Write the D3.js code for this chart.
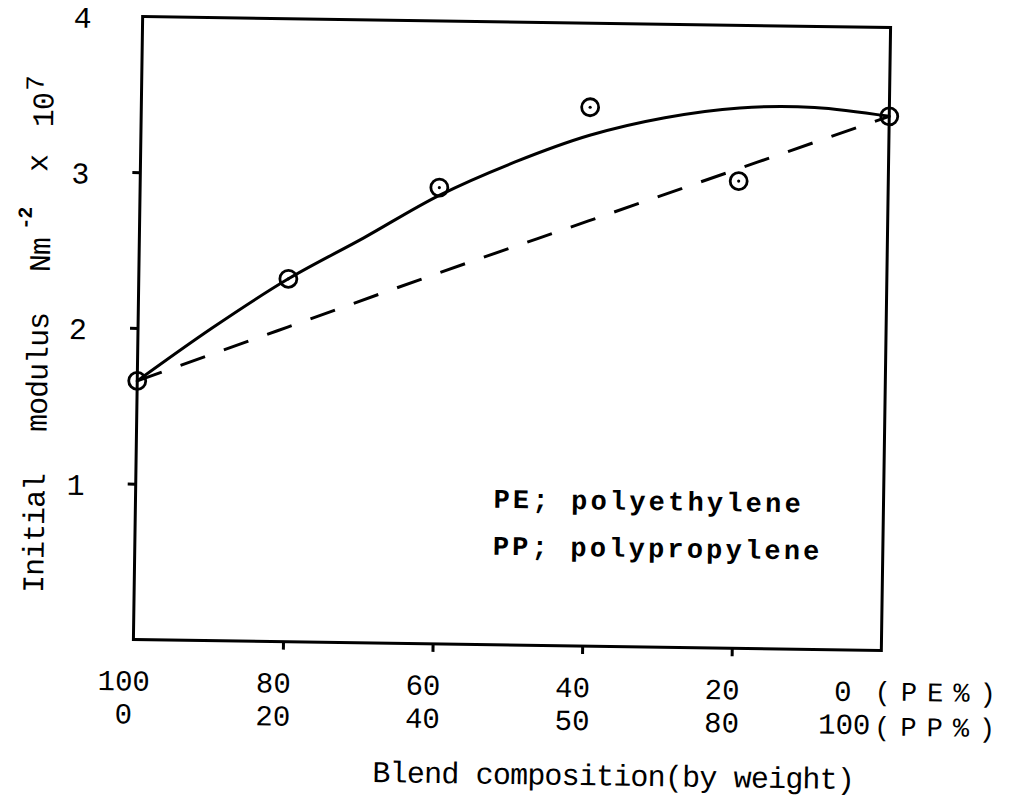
<!DOCTYPE html>
<html>
<head>
<meta charset="utf-8">
<script src="https://cdn.jsdelivr.net/npm/d3@7"></script>
<style>
  html, body { margin: 0; padding: 0; background: #fff; }
  svg { display: block; }
  text { font-family: "Liberation Mono", "DejaVu Sans Mono", monospace; fill: #000; }
</style>
</head>
<body>
<svg id="chart" width="1020" height="801"></svg>
<script>
// Blend composition, PE weight percent (PP = 100 - PE)
const pePercent = [100, 80, 60, 40, 20, 0];
const peLabels = ["100", "80", "60", "40", "20", "0"];
const ppLabels = ["0", "20", "40", "50", "80", "100"];

// Measured initial modulus (x 10^7 N m^-2)
const measured = [1.66, 2.33, 2.93, 3.46, 3.00, 3.43];

// Smooth trend drawn through the measurements
const trendPE = [100, 90, 80, 70, 60, 50, 40, 30, 20, 10, 0];
const trendModulus = [1.66, 2.01, 2.33, 2.60, 2.88, 3.10, 3.28, 3.40, 3.47, 3.48, 3.43];

// Additivity line between the two pure polymers
const additivePE = [100, 80, 60, 40, 20, 0];
const additiveModulus = [1.66, 2.02, 2.38, 2.73, 3.08, 3.43];

const yTicks = [1, 2, 3, 4];
const xInnerTicks = [80, 60, 40, 20];

const svg = d3.select("#chart");
svg.append("rect").attr("width", 1020).attr("height", 801).attr("fill", "#fff");

const L = 138, R = 886, T = 22, B = 645;
const x = d3.scaleLinear().domain([100, 0]).range([L, R]);
const y = d3.scaleLinear().domain([0, 4]).range([B, T]);

// the sheet sits slightly turned on the page
const g = svg.append("g").attr("transform", "rotate(0.85, 512, 333)");

// frame
g.append("rect")
  .attr("x", L).attr("y", T).attr("width", R - L).attr("height", B - T)
  .attr("fill", "none").attr("stroke", "#000").attr("stroke-width", 3);

// tick marks
const yAxis = g.append("g").attr("transform", `translate(${L},0)`)
  .call(d3.axisLeft(y).tickValues([1, 2, 3]).tickSize(8).tickFormat(""));
const xAxis = g.append("g").attr("transform", `translate(0,${B})`)
  .call(d3.axisBottom(x).tickValues(xInnerTicks).tickSize(8).tickFormat(""));
[yAxis, xAxis].forEach(a => {
  a.select(".domain").remove();
  a.selectAll(".tick line").attr("stroke", "#000").attr("stroke-width", 3);
});

// y tick labels
g.selectAll("text.ytl").data(yTicks).join("text")
  .attr("class", "ytl")
  .attr("x", 78).attr("y", d => y(d) + 12)
  .attr("text-anchor", "middle")
  .attr("font-size", 30)
  .text(d => d);

// x tick labels, two rows
g.selectAll("text.pe").data(pePercent).join("text")
  .attr("class", "pe")
  .attr("x", d => x(d) + (d === 0 ? -38 : -9))
  .attr("y", B + 51)
  .attr("text-anchor", "middle")
  .attr("font-size", 29)
  .text((d, i) => peLabels[i]);
g.selectAll("text.pp").data(pePercent).join("text")
  .attr("class", "pp")
  .attr("x", d => x(d) + (d === 0 ? -36 : -9))
  .attr("y", B + 84)
  .attr("text-anchor", "middle")
  .attr("font-size", 29)
  .text((d, i) => ppLabels[i]);
g.append("text").attr("x", x(0) - 6).attr("y", B + 50)
  .attr("font-size", 27).attr("letter-spacing", 10).text("(PE%)");
g.append("text").attr("x", x(0) - 6).attr("y", B + 85)
  .attr("font-size", 27).attr("letter-spacing", 10).text("(PP%)");

// x axis title
g.append("text").attr("x", L + 241).attr("y", B + 139)
  .attr("font-size", 30).attr("letter-spacing", -0.8)
  .text("Blend composition(by weight)");

// y axis title
const yt = g.append("text").attr("transform", "rotate(-90)")
  .attr("font-size", 30).attr("letter-spacing", -1);
yt.append("tspan").attr("x", -600).attr("y", 47).text("Initial");
yt.append("tspan").attr("x", -439).attr("y", 48).text("modulus");
yt.append("tspan").attr("x", -279).attr("y", 49).text("Nm");
yt.append("tspan").attr("x", -237).attr("y", 30).attr("font-size", 20).attr("font-weight", "bold").text("-2");
yt.append("tspan").attr("x", -179).attr("y", 45).text("x");
yt.append("tspan").attr("x", -134).attr("y", 50).text("10");
yt.append("tspan").attr("x", -98).attr("y", 40).attr("font-size", 26).text("7");

// curves
const lineTrend = d3.line()
  .x((d, i) => x(trendPE[i])).y(d => y(d))
  .curve(d3.curveCatmullRom.alpha(0.5));
g.append("path").datum(trendModulus)
  .attr("d", lineTrend)
  .attr("fill", "none").attr("stroke", "#000").attr("stroke-width", 3);

const lineAdd = d3.line()
  .x((d, i) => x(additivePE[i])).y(d => y(d))
  .curve(d3.curveMonotoneX);
g.append("path").datum(additiveModulus)
  .attr("d", lineAdd)
  .attr("fill", "none").attr("stroke", "#000").attr("stroke-width", 3)
  .attr("stroke-dasharray", "26,20");

// data markers
const pts = g.selectAll("g.pt").data(measured).join("g").attr("class", "pt")
  .attr("transform", (d, i) => `translate(${x(pePercent[i])},${y(d)})`);
pts.append("circle").attr("r", 8.5)
  .attr("fill", "none").attr("stroke", "#000").attr("stroke-width", 2.8);
pts.append("circle").attr("r", 1.6).attr("fill", "#000");

// legend
g.append("text").attr("x", 496).attr("y", 508)
  .attr("font-size", 27).attr("font-weight", "bold").attr("letter-spacing", 3.2)
  .text("PE; polyethylene");
g.append("text").attr("x", 496).attr("y", 555)
  .attr("font-size", 27).attr("font-weight", "bold").attr("letter-spacing", 3.2)
  .text("PP; polypropylene");
</script>
</body>
</html>
